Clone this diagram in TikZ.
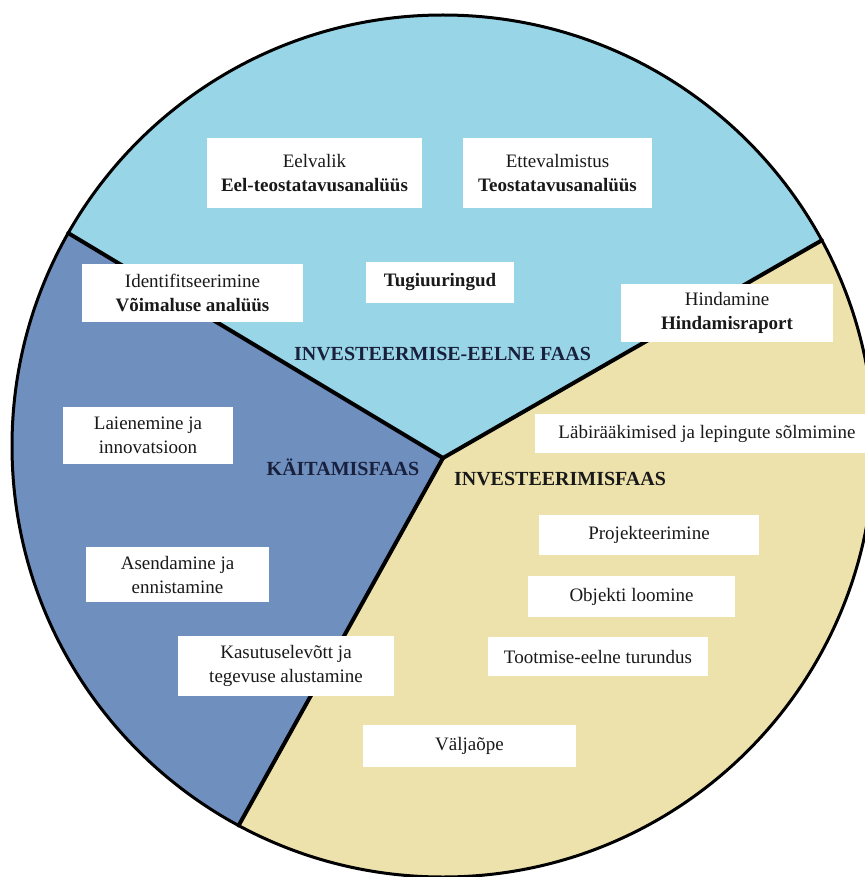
\documentclass[tikz,border=0pt]{standalone}
\usepackage{fontspec}
\setmainfont{Liberation Serif}
\usetikzlibrary{calc}

\definecolor{preinvest}{RGB}{152,213,230}
\definecolor{operate}{RGB}{111,143,191}
\definecolor{invest}{RGB}{237,226,171}
\definecolor{phasetext}{RGB}{25,32,60}

\begin{document}
\begin{tikzpicture}[x=0.5pt, y=-0.5pt,
    stagebox/.style={fill=white, inner sep=0pt, align=center, text=black!90,
        font=\fontsize{9.5}{12}\selectfont},
    bx/.style n args={2}{minimum width=#1*0.5pt, minimum height=#2*0.5pt},
    phase/.style={font=\fontsize{10}{12}\selectfont\bfseries, text=phasetext},
    divider/.style={line width=2pt, line cap=round}]

        \useasboundingbox (0,0) rectangle (865,877);
        \clip (0,0) rectangle (865,877);

        % the wheel
        \coordinate (O) at (443,446);
        \coordinate (P) at (443,458);
        \coordinate (A) at ($(O)+(209.6:431)$);
        \coordinate (B) at ($(O)+(-28.5:431)$);
        \coordinate (C) at ($(O)+(118.3:431)$);

        \fill[preinvest] (P) -- (A) arc[start angle=209.6, end angle=331.5, radius=431] -- cycle;
        \fill[invest] (P) -- (B) arc[start angle=-28.5, end angle=118.3, radius=431] -- cycle;
        \fill[operate] (P) -- (C) arc[start angle=118.3, end angle=209.6, radius=431] -- cycle;
        \draw[line width=1.5pt] (O) circle[radius=431];

        \draw[divider] (P) -- (A);
        \draw[divider] (P) -- (B);
        \draw[divider] (P) -- (C);

        % phases
        \node[phase] (pre) at (442.5,354) {INVESTEERMISE-EELNE FAAS};
        \node[phase] (op) at (343,467) {KÄITAMISFAAS};
        \node[phase, text=black!90] (inv) at (560,479) {INVESTEERIMISFAAS};

        % steps
        \node[stagebox, bx={215}{70}] (eelvalik) at (314.5,173) {Eelvalik\\\textbf{Eel-teostatavusanalüüs}};
        \node[stagebox, bx={189}{70}] (ettevalm) at (557.5,173) {Ettevalmistus\\\textbf{Teostatavusanalüüs}};
        \node[stagebox, bx={221}{58}] (ident) at (192.5,293) {Identifitseerimine\\\textbf{Võimaluse analüüs}};
        \node[stagebox, bx={148}{41}] (tugi) at (440,282.5) {\textbf{Tugiuuringud}};
        \node[stagebox, bx={212}{58}] (hind) at (727,313) {Hindamine\\\textbf{Hindamisraport}};
        \node[stagebox, bx={345}{39}] (labir) at (707,433.5) {Läbirääkimised ja lepingute sõlmimine};
        \node[stagebox, bx={220}{40}] (proj) at (649,535) {Projekteerimine};
        \node[stagebox, bx={207}{41}] (objekt) at (631.5,596.5) {Objekti loomine};
        \node[stagebox, bx={220}{39}] (turundus) at (598,656.5) {Tootmise-eelne turundus};
        \node[stagebox, bx={213}{42}] (valjaope) at (469.5,746) {Väljaõpe};
        \node[stagebox, bx={216}{60}] (kasutus) at (286,666) {Kasutuselevõtt ja\\tegevuse alustamine};
        \node[stagebox, bx={183}{55}] (asend) at (177.5,574.5) {Asendamine ja\\ennistamine};
        \node[stagebox, bx={170}{57}] (laien) at (148,435.5) {Laienemine ja\\innovatsioon};

    \end{tikzpicture}
\end{document}
